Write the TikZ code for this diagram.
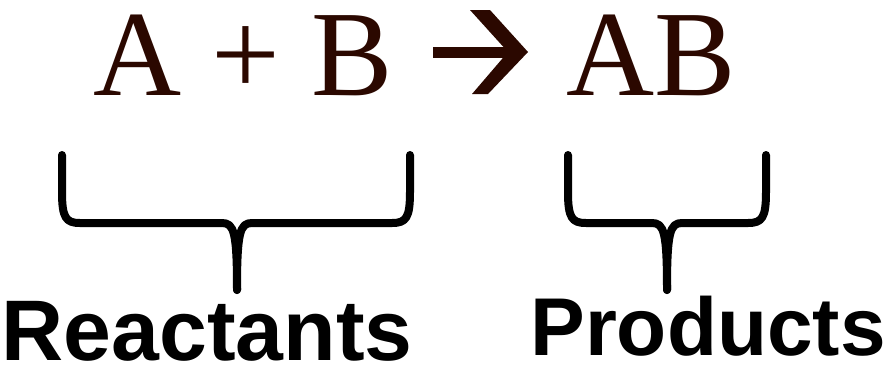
\documentclass[tikz,border=0pt]{standalone}
\usepackage{fontspec}
\setmainfont{Liberation Serif}
\newfontfamily\labelfont{Liberation Sans}
\definecolor{chem}{RGB}{43,8,0}
\begin{document}
\begin{tikzpicture}[x=1pt,y=-1pt,
  formula/.style={inner sep=0pt,anchor=base,text=chem,font=\fontsize{122}{122}\selectfont},
  tag/.style={inner sep=0pt,anchor=base,font=\labelfont\bfseries\fontsize{86}{86}\selectfont},
  bracestyle/.style={line width=8pt,line cap=round,line join=round,black}]
\useasboundingbox (0,0) rectangle (886,368);
% formula
\node[formula] (lhs) at (243,95) {A + B};
\node[formula] (rhs) at (651,95) {AB};
% arrow
\fill[chem] (433,47) rectangle (510,58);
\fill[chem] (470,10) -- (490,10) -- (528,52) -- (488,94) -- (472,94) -- (508,52) -- cycle;
% labels
\node[tag] (react) at (207,360) {Reactants};
\node[tag,font=\labelfont\bfseries\fontsize{82}{82}\selectfont] (prod) at (708,355) {Products};
% braces
\coordinate (rtip) at (237,290);
\coordinate (ptip) at (667,290);
\draw[bracestyle] (62,155) -- (62,192) .. controls (62,218) and (66,223) .. (80,223)
  -- (222,223) .. controls (234,223) and (237,232) .. (rtip);
\draw[bracestyle] (410,155) -- (410,192) .. controls (410,218) and (406,223) .. (392,223)
  -- (252,223) .. controls (240,223) and (237,232) .. (rtip);
\draw[bracestyle] (568,155) -- (568,192) .. controls (568,218) and (572,223) .. (586,223)
  -- (652,223) .. controls (664,223) and (667,232) .. (ptip);
\draw[bracestyle] (766,155) -- (766,192) .. controls (766,218) and (762,223) .. (748,223)
  -- (682,223) .. controls (670,223) and (667,232) .. (ptip);
\end{tikzpicture}
\end{document}
